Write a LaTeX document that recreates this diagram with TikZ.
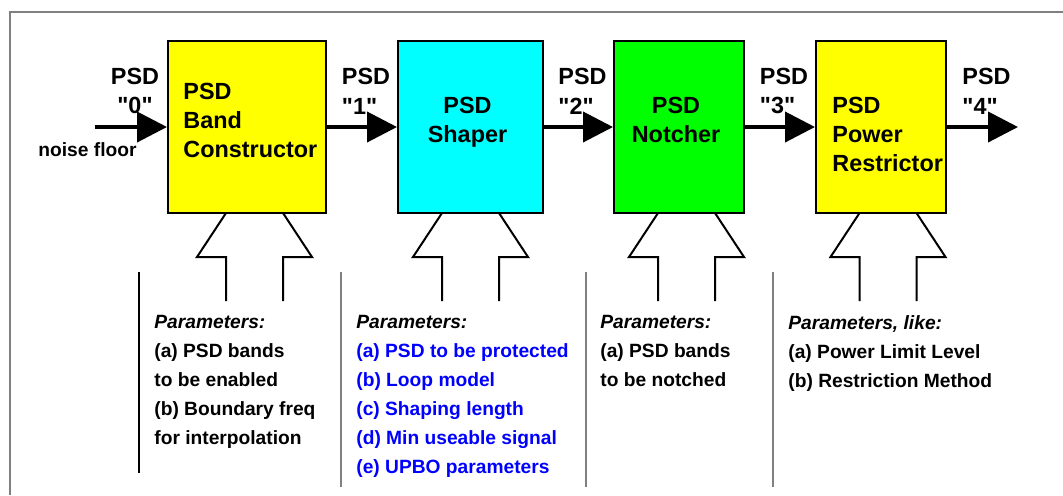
\documentclass[tikz,border=0pt]{standalone}
\usepackage{fontspec}
\setmainfont{Liberation Sans}[Ligatures=TeXOff]
\usetikzlibrary{arrows.meta, positioning}

\definecolor{boxyellow}{RGB}{255,255,0}
\definecolor{boxcyan}{RGB}{0,255,255}
\definecolor{boxgreen}{RGB}{0,255,0}
\definecolor{parblue}{RGB}{0,0,255}

\newcommand{\parmarrow}[1]{%
  \draw[parm, shift={(#1,213)}] (-28.5,88) -- (-28.5,44) -- (-57.5,44) -- (-28.5,0)
                                (28.5,0)   -- (57.5,44)  -- (28.5,44)  -- (28.5,88);}

\begin{document}
\begin{tikzpicture}[
  x=0.5pt, y=-0.5pt, on grid, >={Triangle[length=15pt,width=15pt]},
  box/.style={draw, line width=1pt, minimum width=79pt, minimum height=86pt, inner sep=0pt},
  boxtxt/.style={inner sep=0pt, align=left, font=\bfseries\fontsize{11.7}{14.5}\selectfont},
  psdlbl/.style={above=5.5pt, xshift=2pt, inner sep=0pt, align=left, font=\bfseries\fontsize{11.7}{14.75}\selectfont},
  partxt/.style={anchor=north west, inner sep=0pt, align=left, font=\bfseries\fontsize{9.6}{14.5}\selectfont},
  parm/.style={line width=1pt},
  sep/.style={line width=0.75pt, gray},
  frame/.style={line width=1pt, gray},
  ]
  \useasboundingbox (0,0) rectangle (1063,495);
  \draw[frame] (10,495) -- (10,12) -- (1063,12);

  \node[box, fill=boxyellow]                          (b1) at (247,127)          {};
  \node[box, fill=boxcyan,   minimum width=72.5pt]    (b2) [right=111.75pt of b1] {};
  \node[box, fill=boxgreen,  minimum width=65pt]      (b3) [right=104.25pt of b2] {};
  \node[box, fill=boxyellow, minimum width=65pt]      (b4) [right=101pt of b3]    {};
  \coordinate (in0)  at (95,127);
  \coordinate (out4) at (1018,127);

  \node[boxtxt, anchor=north west]             (t1) at (183,83)   {PSD\\Band\\Constructor};
  \node[boxtxt, anchor=north, align=center]    (t2) at (467.5,97) {PSD\\Shaper};
  \node[boxtxt, anchor=north, align=center]    (t3) at (676,97)   {PSD\\Notcher};
  \node[boxtxt, anchor=north west]             (t4) at (832,97)   {PSD\\Power\\Restrictor};

  \path[->, line width=2pt]
        (in0) edge node[psdlbl, align=center] (l0) {PSD\\"0"} (b1)
        (b1)  edge node[psdlbl] (l1) {PSD\\"1"} (b2)
        (b2)  edge node[psdlbl] (l2) {PSD\\"2"} (b3)
        (b3)  edge node[psdlbl] (l3) {PSD\\"3"} (b4)
        (b4)  edge node[psdlbl] (l4) {PSD\\"4"} (out4);
  \node[inner sep=0pt, anchor=base, font=\bfseries\fontsize{9.6}{14.5}\selectfont] (nf) at (87.5,156) {noise floor};

  \foreach \x in {254.5,470.5,686.5,888} \parmarrow{\x};

  \draw[sep, black] (139,272) -- (139,473);
  \foreach \x in {341,586,773} \draw[sep] (\x,272) -- (\x,487);

  \node[partxt] (p1) at (154,315) {\textit{Parameters:}\\(a) PSD bands\\to be enabled\\(b) Boundary freq\\for interpolation};
  \node[partxt, text=parblue] (p2) at (356,315) {\textcolor{black}{\textit{Parameters:}}\\(a) PSD to be protected\\(b) Loop model\\(c) Shaping length\\(d) Min useable signal\\(e) UPBO parameters};
  \node[partxt] (p3) at (600,315) {\textit{Parameters:}\\(a) PSD bands\\to be notched};
  \node[partxt] (p4) at (788,315) {\textit{Parameters, like:}\\(a) Power Limit Level\\(b) Restriction Method};
\end{tikzpicture}
\end{document}
